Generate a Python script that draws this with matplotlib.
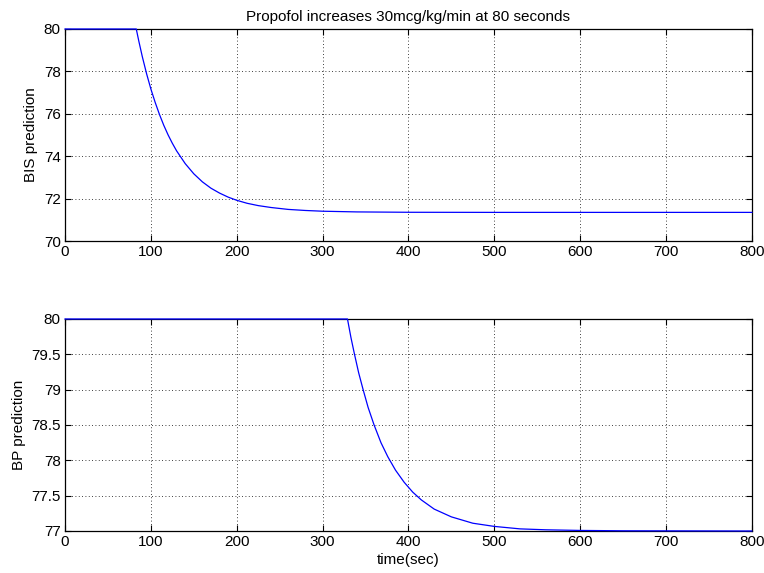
import matplotlib
matplotlib.use('Agg')
import matplotlib.pyplot as plt
from matplotlib.ticker import FormatStrFormatter

# BIS prediction
bis_t = [0, 83, 86, 90, 95, 100, 105, 110, 115, 120, 125, 130, 140, 150, 160, 170, 180,
         190, 200, 212, 225, 240, 260, 280, 300, 340, 400, 500, 800]
bis_v = [80, 80, 79.42, 78.70, 77.89, 77.17, 76.54, 75.97, 75.46, 75.01, 74.61, 74.25,
         73.65, 73.17, 72.79, 72.49, 72.26, 72.07, 71.92, 71.78, 71.67, 71.58, 71.49,
         71.44, 71.405, 71.372, 71.355, 71.35, 71.35]

# BP prediction
bp_t = [0, 329, 333, 337, 342, 347, 353, 360, 368, 376, 385, 395, 405, 415, 430, 450,
        475, 500, 530, 560, 600, 650, 800]
bp_v = [80, 80, 79.74, 79.51, 79.24, 79.01, 78.75, 78.50, 78.25, 78.05, 77.86, 77.69,
        77.55, 77.44, 77.31, 77.20, 77.11, 77.065, 77.03, 77.017, 77.008, 77.003, 77.0]

title = 'Propofol increases 30mcg/kg/min at 80 seconds'
xticks = [0, 100, 200, 300, 400, 500, 600, 700, 800]
bis_ticks = [70, 72, 74, 76, 78, 80]
bp_ticks = [77, 77.5, 78, 78.5, 79, 79.5, 80]

plt.rcParams['font.family'] = ['Liberation Sans', 'DejaVu Sans']
plt.rcParams['font.size'] = 11

fig = plt.figure(figsize=(7.64, 5.73), dpi=100)
ax1 = fig.add_axes([0.0851, 0.5794, 0.899, 0.370])
ax2 = fig.add_axes([0.0851, 0.0733, 0.899, 0.370])


def style(ax, yticks):
    ax.set_xlim(0, 800)
    ax.set_ylim(yticks[0], yticks[-1])
    ax.set_xticks(xticks)
    ax.set_yticks(yticks)
    ax.yaxis.set_major_formatter(FormatStrFormatter('%g'))
    ax.grid(True, color='black', linestyle=(0, (1, 3)), linewidth=0.6)
    ax.tick_params(direction='in', top=True, right=True, length=4, width=0.8,
                   pad=3, labelsize=11)
    for s in ax.spines.values():
        s.set_linewidth(0.9)


# clip_on off so the flat part at 80 shows over the top spine (values stay in range)
ax1.plot(bis_t, bis_v, color='blue', linewidth=0.9, zorder=3, clip_on=False)
style(ax1, bis_ticks)
ax1.set_ylabel('BIS prediction', labelpad=4)
ax1.set_title(title, fontsize=11, pad=6)

ax2.plot(bp_t, bp_v, color='blue', linewidth=0.9, zorder=3, clip_on=False)
style(ax2, bp_ticks)
ax2.set_ylabel('BP prediction', labelpad=4)
ax2.set_xlabel('time(sec)', labelpad=3)

plt.savefig('out.png', dpi=100)
